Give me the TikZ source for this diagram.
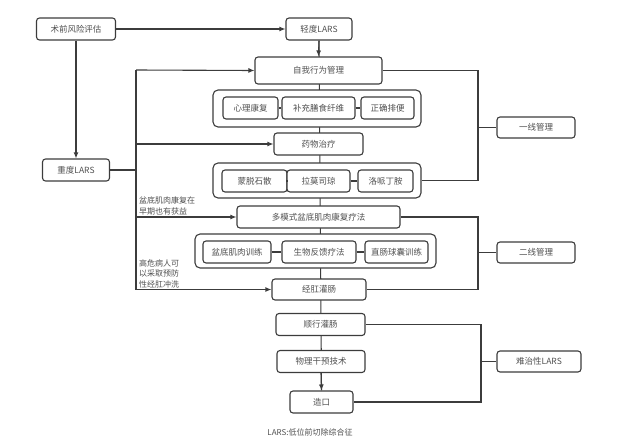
\documentclass[tikz,border=0pt]{standalone}
\usepackage{fontspec}
\setmainfont{Noto Sans CJK SC}
\usetikzlibrary{positioning, arrows.meta, backgrounds}
\definecolor{linegray}{HTML}{3c3c3c}
\definecolor{textgray}{HTML}{505050}

\begin{document}
\begin{tikzpicture}[x=1pt, y=-1pt, >={Latex[length=6pt, width=5pt]},
            box/.style={draw=linegray, fill=white, rounded corners=3pt, line width=1.1pt, text=textgray,
            minimum height=22pt, inner sep=1pt, font=\fontsize{8.5}{10}\selectfont},
            group/.style={draw=linegray, fill=white, rounded corners=5pt, line width=1.1pt, inner sep=0pt},
            line/.style={draw=linegray, line width=1.1pt},
            note/.style={text=textgray, font=\fontsize{8}{10.5}\selectfont, align=left, inner sep=0pt}]

        \useasboundingbox (0,0) rectangle (622,445);

        % evaluation
        \node[box, minimum width=79pt] (pre) at (76,29) {术前风险评估};
        \node[box, minimum width=66pt] (mild) at (319,29) {轻度LARS};
        \node[box, minimum width=67pt] (severe) at (76,170) {重度LARS};

        % first line
        \node[box, minimum width=127pt, minimum height=27pt] (self) at (318.5,70.5) {自我行为管理};
        \node[group, minimum width=208pt, minimum height=37pt] (g1) at (317,108.5) {};
        \node[box, minimum width=55pt] (psy) at (250.5,108) {心理康复};
        \node[box, minimum width=73pt] (fiber) at (318.5,108) {补充膳食纤维};
        \node[box, minimum width=53pt] (stool) at (387.5,108) {正确排便};
        \node[box, minimum width=89pt] (drug) at (318.5,144) {药物治疗};
        \node[group, minimum width=208pt, minimum height=35pt] (g2) at (317,180.5) {};
        \node[box, minimum width=65pt] (mont) at (254.5,181) {蒙脱石散};
        \node[box, minimum width=63pt] (ramo) at (318.5,181) {拉莫司琼};
        \node[box, minimum width=55pt] (lop) at (385.5,181) {洛哌丁胺};

        % second line
        \node[box, minimum width=163pt] (pfm) at (318.5,217) {多模式盆底肌肉康复疗法};
        \node[group, minimum width=241pt, minimum height=34pt] (g3) at (315.5,251) {};
        \node[box, minimum width=68pt] (pft) at (237,252) {盆底肌肉训练};
        \node[box, minimum width=74pt] (bio) at (319,252) {生物反馈疗法};
        \node[box, minimum width=63pt] (bal) at (396.5,252) {直肠球囊训练};
        \node[box, minimum width=94pt, minimum height=21pt] (enema) at (319,289.5) {经肛灌肠};

        % refractory
        \node[box, minimum width=89pt] (ante) at (320.5,324.5) {顺行灌肠};
        \node[box, minimum width=88pt] (phys) at (321,361.5) {物理干预技术};
        \node[box, minimum width=63pt] (stoma) at (321.5,402) {造口};

        % levels
        \node[box, minimum width=78pt, minimum height=21pt] (first) at (536,127.5) {一线管理};
        \node[box, minimum width=78pt, minimum height=21pt] (second) at (536,252.5) {二线管理};
        \node[box, minimum width=84pt, minimum height=21pt] (refr) at (539,361.5) {难治性LARS};

        \node[note, anchor=south west] (early) at (139,215) {盆底肌肉康复在\\早期也有获益};
        \node[note, anchor=south west] (risk) at (139,288) {高危病人可\\以采取预防\\性经肛冲洗};
        \node[text=textgray, font=\fontsize{8}{10}\selectfont] (cap) at (310,432) {LARS:低位前切除综合征};

        \coordinate (bus) at (136,70);
        \coordinate (r1) at (478,0);
        \coordinate (r2) at (478,0);
        \coordinate (r3) at (481,0);

        \begin{pgfonlayer}{background}
            \draw[line] (mild.south) -- (stoma.north);
        \end{pgfonlayer}

        \draw[line, ->] (pre.east) -- (mild.west);
        \draw[line, ->] (pre.south) -- (severe.north);
        \draw[line, ->] (mild.south) -- (self.north);
        \draw[line, ->] (phys.south) -- (stoma.north);

        % severe branch
        \draw[line] (severe.east) -- (bus |- severe.east);
        \draw[line] (bus) -- (bus |- enema.west);
        \draw[line, ->] (bus) -- (self.west);
        \draw[line, ->] (bus |- drug.west) -- (drug.west);
        \draw[line, ->] (bus |- pfm.west) -- (pfm.west);
        \draw[line, ->] (bus |- enema.west) -- (enema.west);

        % inner links
        \draw[line] (psy) -- (fiber);
        \draw[line] (fiber) -- (stool);
        \draw[line] (mont) -- (ramo);
        \draw[line] (ramo) -- (lop);
        \draw[line] (pft) -- (bio);
        \draw[line] (bio) -- (bal);

        % brackets
        \draw[line] (self.east) -- (r1 |- self.east) -- (r1 |- g2.east) -- (g2.east);
        \draw[line] (r1 |- first.west) -- (first.west);
        \draw[line] (pfm.east) -- (r2 |- pfm.east) -- (r2 |- enema.east) -- (enema.east);
        \draw[line] (r2 |- second.west) -- (second.west);
        \draw[line] (ante.east) -- (r3 |- ante.east) -- (r3 |- stoma.east) -- (stoma.east);
        \draw[line] (r3 |- refr.west) -- (refr.west);

    \end{tikzpicture}
\end{document}
